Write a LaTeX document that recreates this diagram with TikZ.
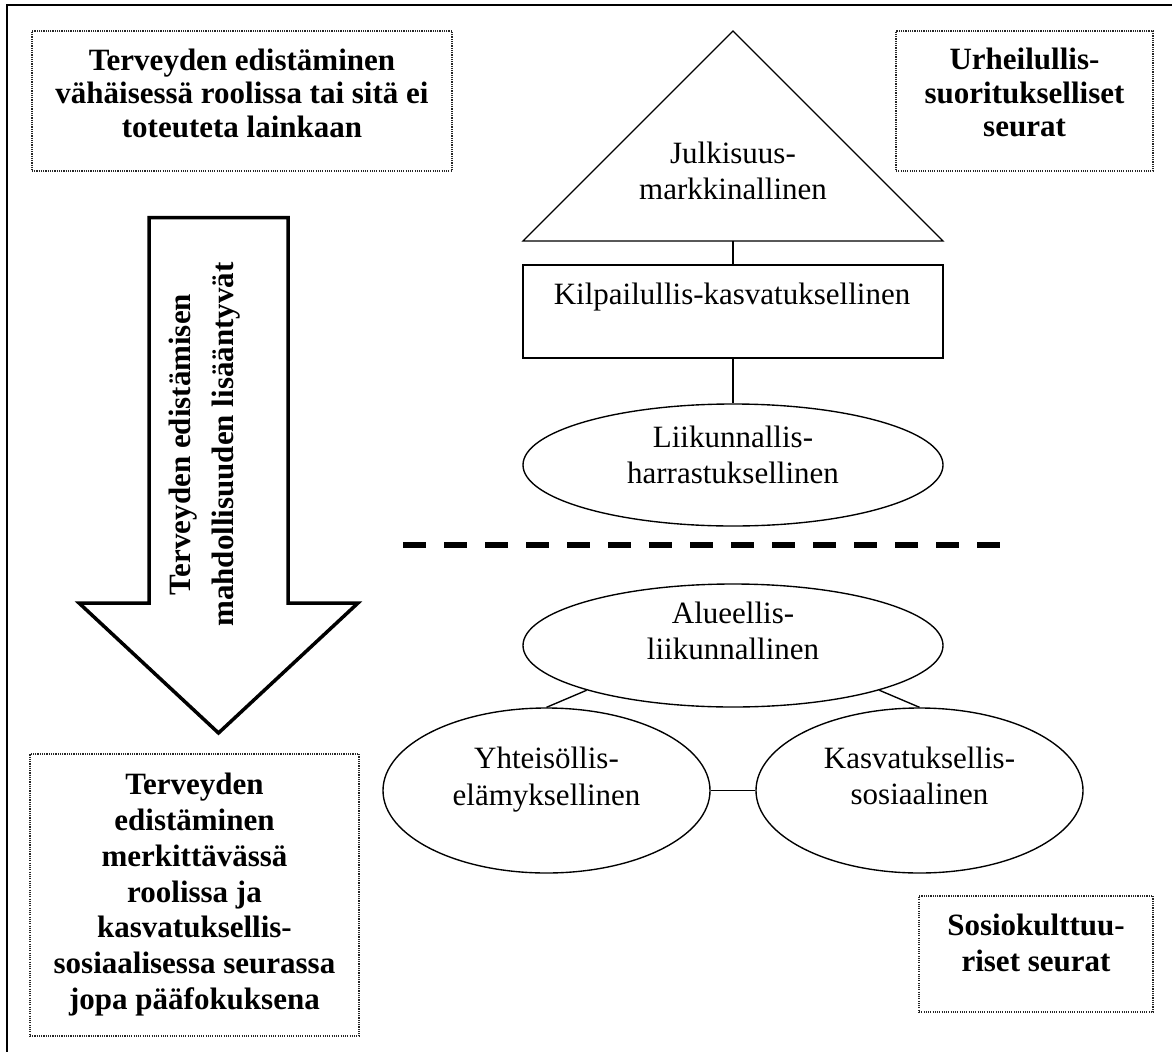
\documentclass[tikz,border=0pt]{standalone}
\usepackage{fontspec}
\setmainfont{Liberation Serif}
\usetikzlibrary{shapes.geometric}
\tikzset{
  dotbox/.style={draw=black!85, line width=0.45pt, dash pattern=on 0.45pt off 0.45pt, inner sep=0pt},
  shapeline/.style={draw=black, line width=0.55pt, fill=white},
  conn/.style={draw=black, line width=0.55pt},
  boldtxt/.style={font=\fontsize{12.4pt}{13.4pt}\selectfont\bfseries, align=center, inner sep=0pt},
  boldtxtb/.style={font=\fontsize{12.4pt}{14.3pt}\selectfont\bfseries, align=center, inner sep=0pt},
  regtxt/.style={font=\fontsize{12.4pt}{14.6pt}\selectfont, align=center, inner sep=0pt},
  ell/.style={shapeline, ellipse, inner sep=0pt},
}
\begin{document}
\begin{tikzpicture}[x=0.4pt, y=-0.4pt]
\useasboundingbox (0,0) rectangle (1172,1052);
% outer frame (only top and left edges visible)
\draw[line width=0.8pt] (7,1070) -- (7,5) -- (1190,5);

% dotted boxes
\node[dotbox, minimum width=168pt, minimum height=56pt] (tlbox) at (242,101) {};
\node[boldtxt] (tltext) at (242,93) {Terveyden edistäminen\\vähäisessä roolissa tai sitä ei\\toteuteta lainkaan};

\node[dotbox, minimum width=102.8pt, minimum height=56pt] (trbox) at (1024.5,101) {};
\node[boldtxt] (trtext) at (1024.5,92.6) {Urheilullis-\\suoritukselliset\\seurat};

\node[dotbox, minimum width=131.6pt, minimum height=112.8pt] (blbox) at (194.5,895) {};
\node[boldtxtb] (bltext) at (194.5,894.7) {Terveyden\\edistäminen\\merkittävässä\\roolissa ja\\kasvatuksellis-\\sosiaalisessa seurassa\\jopa pääfokuksena};

\node[dotbox, minimum width=93.6pt, minimum height=46.4pt] (brbox) at (1036,954) {};
\node[boldtxtb] (brtext) at (1036,942.7) {Sosiokulttuu-\\riset seurat};

% big arrow
\draw[line width=1.4pt, line join=miter] (149,217.5) -- (288,217.5) -- (288,603) -- (358,603) -- (218.5,733) -- (79,603) -- (149,603) -- cycle;
\node[font=\fontsize{12.4pt}{17.2pt}\selectfont\bfseries, align=center, inner sep=0pt, rotate=90] (arrtext) at (204.5,444.5) {Terveyden edistämisen\\mahdollisuuden lisääntyvät};

% pyramid: triangle
\coordinate (triL) at (523,241);
\coordinate (triT) at (733,31);
\coordinate (triR) at (943,241);
\coordinate (tribase) at (733,241);
\draw[shapeline] (triL) -- (triT) -- (triR) -- cycle;
\node[regtxt] (tritext) at (733,171) {Julkisuus-\\markkinallinen};

% rectangle
\node[shapeline, rectangle, minimum width=168pt, minimum height=37.2pt, inner sep=0pt] (kil) at (733,311.5) {};
\node[regtxt] (kiltext) at (732,296.7) {Kilpailullis-kasvatuksellinen};

% ellipse 1
\node[ell, minimum width=168pt, minimum height=48.8pt] (liik) at (733,465) {};
\node[regtxt] (liiktext) at (733,455) {Liikunnallis-\\harrastuksellinen};

\draw[conn] (tribase) -- (kil.north);
\draw[conn] (kil.south) -- (liik.north);

% dashed divider
\coordinate (d1) at (403,545);
\coordinate (d2) at (1001,545);
\draw[line width=2.6pt, dash pattern=on 9.3pt off 7.1pt] (d1) -- (d2);

% lower ellipses
\node[ell, minimum width=168pt, minimum height=49.2pt] (alue) at (733,645.5) {};
\node[regtxt] (aluetext) at (733,631) {Alueellis-\\liikunnallinen};

\node[ell, minimum width=130.8pt, minimum height=66pt] (yht) at (546.5,790.5) {};
\node[regtxt] (yhttext) at (546.5,779.5) {Yhteisöllis-\\elämyksellinen};

\node[ell, minimum width=130.8pt, minimum height=66pt] (kas) at (919.5,790.5) {};
\node[regtxt] (kastext) at (919.5,776) {Kasvatuksellis-\\sosiaalinen};

\draw[conn] (alue.197) -- (yht.north);
\draw[conn] (alue.-17) -- (kas.north);
\draw[conn] (yht.east) -- (kas.west);
\end{tikzpicture}
\end{document}
